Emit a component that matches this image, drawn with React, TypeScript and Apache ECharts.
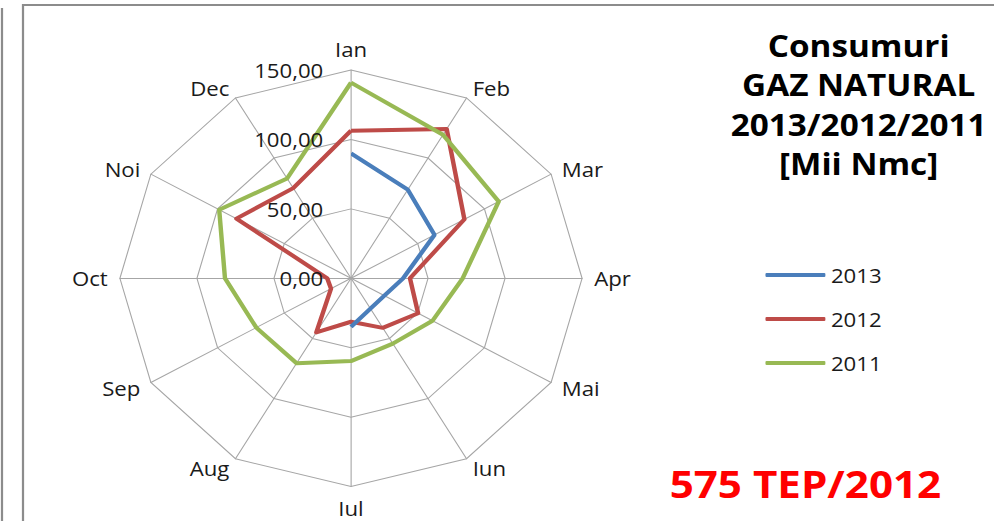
import React, { useEffect, useRef } from "react";
import * as echarts from "echarts";

const months = ["Ian", "Feb", "Mar", "Apr", "Mai", "Iun", "Iul", "Aug", "Sep", "Oct", "Noi", "Dec"];
const seriesNames = ["2013", "2012", "2011"];
const values2013 = [90.0, 73.7, 62.6, 33.8, 25.0, 25.2, 34.9];
const values2012 = [106.3, 124.2, 85.0, 38.3, 50.3, 41.2, 31.3, 45.0, 15.0, 15.4, 85.9, 75.0];
const values2011 = [140.9, 119.4, 110.7, 72.5, 61.1, 54.3, 59.6, 70.6, 71.0, 81.8, 98.8, 83.0];
const axisMin = 0;
const axisMax = 150;
const axisStep = 50;
const titleLines = ["Consumuri", "GAZ NATURAL", "2013/2012/2011", "[Mii Nmc]"];
const noteText = "575 TEP/2012";

const COLORS = ["#4a7ebb", "#be4b48", "#98b954"];
const W = 896;
const H = 521;
const SX = 994 / W;
const FONT = "'Open Sans', 'Noto Sans', sans-serif";
const CX = 351 / SX;
const CY = 278.3;
const R = 208.3;

// ECharts radar lays indicators out counter-clockwise; reorder so months run clockwise
const clockwiseOrder = months.map((_, i) => (i === 0 ? 0 : months.length - i));
const reorder = <T,>(arr: T[]) => clockwiseOrder.map((i) => arr[i]);

export default function App() {
  const ref = useRef<HTMLDivElement>(null);
  useEffect(() => {
    if (!ref.current) return;
    const chart = echarts.init(ref.current, null, { renderer: "svg" });
    const fmt = (v: number) => v.toFixed(2).replace(".", ",");
    chart.setOption({
      animation: false,
      backgroundColor: "#ffffff",
      radar: {
        center: [CX, CY],
        radius: R,
        startAngle: 90,
        shape: "polygon",
        splitNumber: axisMax / axisStep,
        indicator: reorder(months).map((m) => ({ name: m, min: axisMin, max: axisMax })),
        axisNameGap: 11,
        axisName: { color: "#1a1a1a", fontSize: 20, fontFamily: FONT },
        splitLine: { lineStyle: { color: "#a6a6a6", width: 1 } },
        splitArea: { show: false },
        axisLine: { lineStyle: { color: "#a6a6a6", width: 1 } },
        axisTick: { show: false },
        axisLabel: { show: false },
      },
      polar: { center: [CX, CY], radius: R },
      angleAxis: {
        type: "category",
        data: months,
        startAngle: 90,
        clockwise: true,
        boundaryGap: false,
        axisLine: { show: false },
        axisTick: { show: false },
        axisLabel: { show: false },
        splitLine: { show: false },
      },
      radiusAxis: {
        min: axisMin,
        max: axisMax,
        interval: axisStep,
        axisLine: { show: false },
        axisTick: { show: false },
        splitLine: { show: false },
        axisLabel: {
          show: true,
          formatter: (v: number) => fmt(v),
          fontSize: 20,
          fontFamily: FONT,
          color: "#1a1a1a",
          margin: 25,
        },
        z: 10,
      },
      legend: {
        data: seriesNames,
        orient: "vertical",
        left: 685,
        top: 260,
        itemWidth: 54,
        itemHeight: 4,
        itemGap: 24,
        icon: "roundRect",
        textStyle: { fontSize: 20, fontFamily: FONT, color: "#1a1a1a" },
      },
      series: [
        {
          type: "line",
          name: seriesNames[0],
          coordinateSystem: "polar",
          data: values2013,
          symbol: "none",
          color: COLORS[0],
          lineStyle: { color: COLORS[0], width: 4 },
          z: 4,
        },
        {
          type: "radar",
          symbol: "none",
          z: 3,
          data: [
            {
              name: seriesNames[1],
              value: reorder(values2012),
              itemStyle: { color: COLORS[1] },
              lineStyle: { color: COLORS[1], width: 4 },
            },
            {
              name: seriesNames[2],
              value: reorder(values2011),
              itemStyle: { color: COLORS[2] },
              lineStyle: { color: COLORS[2], width: 4 },
            },
          ],
        },
      ],
      graphic: [
        {
          type: "rect",
          shape: { x: 23 / SX, y: 5, width: 2000, height: 2000 },
          style: { fill: "none", stroke: "#8c8c8c", lineWidth: 2 },
          silent: true,
        },
        {
          type: "line",
          shape: { x1: 2 / SX, y1: 8, x2: 2 / SX, y2: 600 },
          style: { stroke: "#8c8c8c", lineWidth: 2 },
          silent: true,
        },
        {
          type: "text",
          x: 774,
          y: 25,
          style: {
            text: titleLines.join("\n"),
            font: `bold 30px ${FONT}`,
            lineHeight: 39.5,
            fill: "#000",
            align: "center",
            verticalAlign: "top",
          },
        },
        {
          type: "text",
          x: 726,
          y: 483,
          style: {
            text: noteText,
            font: `bold 38px ${FONT}`,
            fill: "#ff0000",
            align: "center",
            verticalAlign: "middle",
          },
        },
      ],
    });
    return () => chart.dispose();
  }, []);
  return (
    <div style={{ position: "fixed", left: 0, top: 0, width: 994, height: 521, overflow: "hidden", background: "#fff" }}>
      <div
        ref={ref}
        style={{ width: W, height: H, transform: `scaleX(${SX})`, transformOrigin: "0 0" }}
      />
    </div>
  );
}
